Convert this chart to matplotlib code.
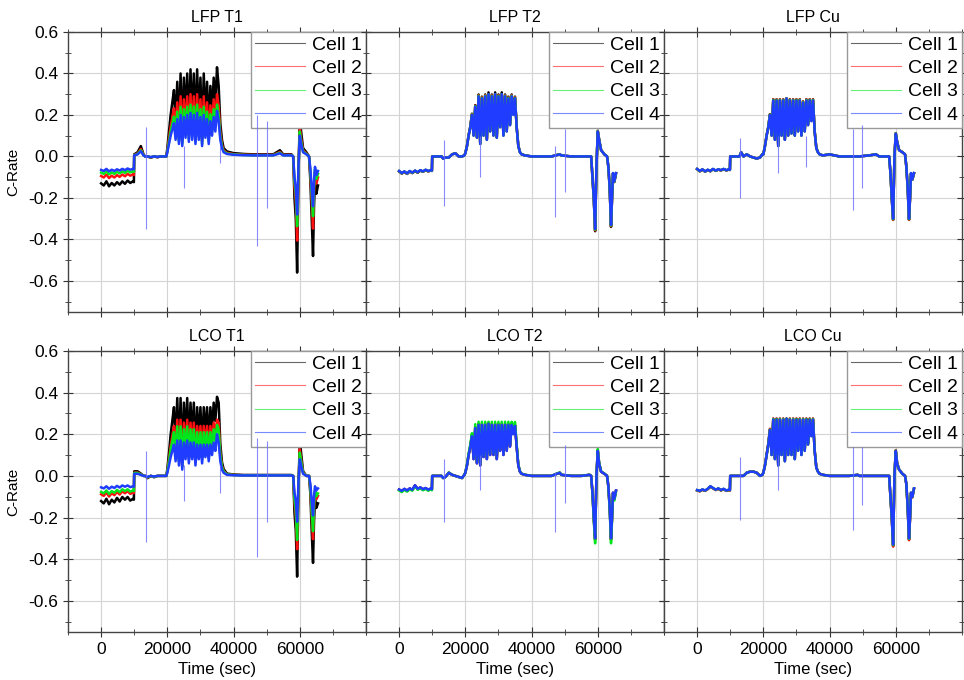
import matplotlib
matplotlib.use('Agg')
import matplotlib.pyplot as plt
from matplotlib.lines import Line2D
from matplotlib.ticker import MultipleLocator, FixedLocator, FuncFormatter
import numpy as np

plt.rcParams['font.family'] = ['Liberation Sans', 'DejaVu Sans']

# Time vertices shared by every panel (sec)
TIME = [0, 800, 1600, 2400, 3200, 4000, 4800, 5600, 6400, 7200, 8000, 8800, 9600, 9900,
        10000, 11000, 12000, 12800, 13300, 14000, 15000, 16000, 17000, 18000, 19000, 19700,
        20000, 20500, 21000, 21500,
        22000, 22500, 23000, 23500, 24000, 24500, 25000, 25500, 26000, 26500, 27000, 27500,
        28000, 28500, 29000, 29500, 30000, 30500, 31000, 31500, 32000, 32500, 33000, 33500,
        34000, 34500, 35000,
        35500, 36000, 36500, 37000, 38000, 40000, 43000, 46000, 48500, 49000, 52000, 54000,
        55000, 57500,
        58000, 58400, 58800, 59200, 59600, 60000, 60400, 61000, 62000, 62800, 63200, 63600,
        64000, 64300, 64600, 65000, 65500]

# C-rate of Cell 4 in each panel
LFP_T1 = [-0.065, -0.07, -0.06, -0.072, -0.064, -0.07, -0.062, -0.068, -0.06, -0.066, -0.058, -0.064, -0.06, -0.062,
          0.005, 0.01, 0.025, 0.005, 0.0, 0.0, -0.003, 0.0, -0.002, 0.0, 0.0, 0.0,
          0.02, 0.06, 0.1, 0.13,
          0.16, 0.08, 0.18, 0.06, 0.2, 0.05, 0.19, 0.09, 0.2, 0.07, 0.21, 0.08,
          0.2, 0.06, 0.21, 0.08, 0.19, 0.05, 0.2, 0.09, 0.18, 0.06, 0.17, 0.1,
          0.19, 0.12, 0.22,
          0.17, 0.08, 0.04, 0.02, 0.012, 0.008, 0.006, 0.005, 0.005, 0.005, 0.005, 0.015,
          0.005, 0.005,
          0.0, -0.1, -0.15, -0.28, -0.05, 0.1, 0.06, 0.02, 0.01, 0.0, -0.06, -0.15,
          -0.24, -0.12, -0.05, -0.09, -0.07]
LFP_T2 = [-0.07, -0.08, -0.072, -0.082, -0.07, -0.078, -0.068, -0.076, -0.066, -0.072, -0.064, -0.07, -0.066, -0.068,
          0.0, 0.0, 0.0, 0.0, -0.01, -0.005, -0.005, 0.01, 0.015, 0.0, 0.0, 0.005,
          0.015, 0.05, 0.1, 0.14,
          0.2, 0.1, 0.24, 0.09, 0.29, 0.06, 0.28, 0.1, 0.29, 0.08, 0.3, 0.12,
          0.29, 0.1, 0.3, 0.09, 0.29, 0.14, 0.3, 0.1, 0.29, 0.12, 0.28, 0.15,
          0.29, 0.2, 0.28,
          0.14, 0.05, 0.02, 0.01, 0.005, 0.0, 0.0, 0.0, 0.01, 0.005, 0.0, 0.0,
          0.0, 0.0,
          0.0, -0.1, -0.2, -0.35, -0.05, 0.12, 0.08, 0.03, 0.01, 0.0, -0.05, -0.15,
          -0.33, -0.2, -0.08, -0.12, -0.08]
LFP_CU = [-0.06, -0.07, -0.062, -0.072, -0.064, -0.07, -0.06, -0.068, -0.062, -0.066, -0.06, -0.066, -0.062, -0.064,
          0.0, 0.0, 0.0, 0.0, 0.02, 0.0, 0.01, 0.0, -0.005, -0.01, -0.005, 0.01,
          0.01, 0.05, 0.1, 0.14,
          0.2, 0.1, 0.27, 0.08, 0.27, 0.05, 0.27, 0.1, 0.27, 0.08, 0.28, 0.1,
          0.27, 0.11, 0.27, 0.1, 0.27, 0.12, 0.27, 0.1, 0.26, 0.12, 0.27, 0.15,
          0.27, 0.17, 0.27,
          0.12, 0.04, 0.02, 0.01, 0.005, 0.01, 0.0, 0.0, 0.0, 0.0, 0.005, 0.01,
          0.0, 0.0,
          0.0, -0.08, -0.2, -0.3, 0.0, 0.11, 0.07, 0.03, 0.02, 0.01, -0.05, -0.15,
          -0.3, -0.2, -0.08, -0.11, -0.08]
LCO_T1 = [-0.055, -0.06, -0.05, -0.062, -0.052, -0.058, -0.048, -0.056, -0.046, -0.052, -0.046, -0.054, -0.05, -0.052,
          0.01, 0.01, 0.005, 0.0, 0.0, -0.005, 0.0, -0.003, 0.0, 0.0, 0.0, 0.0,
          0.015, 0.05, 0.09, 0.12,
          0.15, 0.07, 0.17, 0.05, 0.17, 0.03, 0.16, 0.08, 0.17, 0.06, 0.16, 0.08,
          0.16, 0.05, 0.15, 0.08, 0.15, 0.06, 0.15, 0.09, 0.15, 0.07, 0.15, 0.1,
          0.16, 0.12, 0.2,
          0.16, 0.07, 0.03, 0.015, 0.005, 0.003, 0.002, 0.002, 0.002, 0.002, 0.002, 0.002,
          0.002, 0.002,
          0.0, -0.08, -0.12, -0.22, -0.03, 0.08, 0.05, 0.01, 0.0, 0.0, -0.04, -0.12,
          -0.19, -0.1, -0.05, -0.07, -0.06]
LCO_T2 = [-0.065, -0.072, -0.062, -0.07, -0.06, -0.066, -0.045, -0.062, -0.055, -0.064, -0.058, -0.066, -0.06, -0.064,
          0.0, 0.0, 0.0, 0.0, -0.01, -0.005, 0.015, 0.005, 0.0, -0.005, -0.01, 0.005,
          0.015, 0.05, 0.1, 0.14,
          0.19, 0.08, 0.23, 0.06, 0.245, 0.05, 0.245, 0.09, 0.245, 0.08, 0.25, 0.1,
          0.245, 0.1, 0.245, 0.08, 0.245, 0.12, 0.245, 0.1, 0.245, 0.12, 0.245, 0.14,
          0.245, 0.2, 0.24,
          0.14, 0.05, 0.02, 0.01, 0.005, 0.0, 0.0, 0.0, 0.015, 0.005, 0.0, 0.0,
          0.0, 0.005,
          0.0, -0.08, -0.2, -0.3, 0.0, 0.12, 0.06, 0.02, 0.01, 0.0, -0.05, -0.15,
          -0.3, -0.2, -0.08, -0.11, -0.07]
LCO_CU = [-0.068, -0.072, -0.065, -0.07, -0.062, -0.05, -0.058, -0.066, -0.06, -0.068, -0.062, -0.07, -0.066, -0.068,
          0.0, 0.0, 0.0, 0.0, 0.0, 0.0, 0.015, 0.02, 0.02, 0.015, 0.0, 0.005,
          0.015, 0.05, 0.1, 0.15,
          0.22, 0.1, 0.27, 0.08, 0.27, 0.05, 0.27, 0.1, 0.27, 0.07, 0.275, 0.1,
          0.27, 0.1, 0.27, 0.08, 0.27, 0.12, 0.27, 0.1, 0.27, 0.12, 0.27, 0.15,
          0.27, 0.19, 0.27,
          0.12, 0.04, 0.02, 0.01, 0.005, 0.0, 0.0, 0.0, 0.005, 0.0, 0.0, 0.0,
          0.0, 0.0,
          0.0, -0.1, -0.2, -0.33, 0.0, 0.12, 0.06, 0.03, 0.01, 0.0, -0.04, -0.15,
          -0.3, -0.2, -0.08, -0.1, -0.06]

# Cells 1-3 relative to Cell 4 (ratio) and their saturation level during pulses
RATIO = {
    'LFP T1': [2.0, 1.45, 1.2, 1.0], 'LFP T2': [1.03, 1.02, 1.01, 1.0], 'LFP Cu': [1.02, 1.02, 1.01, 1.0],
    'LCO T1': [2.2, 1.6, 1.4, 1.0], 'LCO T2': [1.02, 1.02, 1.08, 1.0], 'LCO Cu': [1.02, 1.03, 1.01, 1.0],
}
CAP = {
    'LFP T1': [0.43, 0.3, 0.25, 1.0], 'LFP T2': [0.31, 0.3, 0.3, 1.0], 'LFP Cu': [0.28, 0.28, 0.28, 1.0],
    'LCO T1': [0.38, 0.27, 0.245, 1.0], 'LCO T2': [0.265, 0.26, 0.26, 1.0], 'LCO Cu': [0.275, 0.275, 0.275, 1.0],
}

# isolated short spikes: time, low, high
SPIKES = {
    'LFP T1': [(13500, -0.35, 0.14), (25000, -0.15, 0.05), (47000, -0.43, 0.2), (50000, -0.25, 0.17), (36000, -0.03, 0.05)],
    'LFP T2': [(13500, -0.24, 0.08), (24500, -0.1, 0.1), (47000, -0.29, 0.05), (50000, -0.17, 0.13)],
    'LFP Cu': [(13000, -0.2, 0.09), (24500, -0.08, 0.1), (33000, -0.05, 0.1), (47000, -0.26, 0.13), (49800, -0.15, 0.15)],
    'LCO T1': [(13500, -0.32, 0.12), (25000, -0.12, 0.05), (47000, -0.39, 0.18), (50000, -0.22, 0.17), (36000, -0.08, 0.05)],
    'LCO T2': [(13500, -0.22, 0.08), (24500, -0.07, 0.1), (47000, -0.27, 0.02), (50000, -0.13, 0.15)],
    'LCO Cu': [(13000, -0.21, 0.09), (24500, -0.07, 0.1), (47000, -0.26, 0.14), (49800, -0.14, 0.14)],
}

PANELS = [['LFP T1', 'LFP T2', 'LFP Cu'], ['LCO T1', 'LCO T2', 'LCO Cu']]
CELL4 = {'LFP T1': LFP_T1, 'LFP T2': LFP_T2, 'LFP Cu': LFP_CU,
         'LCO T1': LCO_T1, 'LCO T2': LCO_T2, 'LCO Cu': LCO_CU}
CELLS = ['Cell 1', 'Cell 2', 'Cell 3', 'Cell 4']
COLORS = ['#000000', '#ff1010', '#00e61a', '#1f3cff']
X_TICKS = [0, 20000, 40000, 60000]

fig = plt.figure(figsize=(9.64, 6.8), dpi=100)
left, width = 68 / 964, 298 / 964
rows = [(1 - 312 / 680, 280 / 680), (1 - 632 / 680, 281 / 680)]

t = np.array(TIME)
axes = []
for r, names in enumerate(PANELS):
    for c, name in enumerate(names):
        b, h = rows[r]
        ax = fig.add_axes([left + c * width, b, width, h],
                          sharex=axes[0] if axes else None, sharey=axes[0] if axes else None)
        axes.append(ax)
        base = np.array(CELL4[name])
        for k in range(4):
            y = np.minimum(base * RATIO[name][k], CAP[name][k])
            ax.plot(t, y, color=COLORS[k], lw=1.8, zorder=2 + k)
        for (ts, lo, hi) in SPIKES[name]:
            ax.vlines(ts, lo, hi, color='#6a6aff', lw=0.8, alpha=0.8, zorder=6)

        ax.set_xlim(-10000, 80000)
        ax.set_ylim(-0.75, 0.6)
        ax.xaxis.set_major_locator(FixedLocator(X_TICKS))
        ax.xaxis.set_minor_locator(MultipleLocator(10000))
        ax.yaxis.set_major_locator(MultipleLocator(0.2))
        ax.yaxis.set_minor_locator(MultipleLocator(0.1))
        ax.grid(True, which='major', color='#d4d4d4', lw=0.8)
        ax.set_axisbelow(True)
        ax.tick_params(which='both', direction='inout', top=True, right=True, labelsize=12.5, color='#333333')
        ax.tick_params(which='major', length=7)
        ax.tick_params(which='minor', length=4)
        for s in ax.spines.values():
            s.set_color('#444444')
            s.set_linewidth(1.0)
        ax.set_title(name, fontsize=11.5, pad=7)

        if c == 0:
            ax.set_ylabel('C-Rate', fontsize=11, labelpad=6)
        else:
            ax.tick_params(labelleft=False)
        if r == 1:
            ax.set_xlabel('Time (sec)', fontsize=12, labelpad=4)
        else:
            ax.tick_params(labelbottom=False)

        handles = [Line2D([0], [0], color=col, lw=0.8, alpha=0.6) for col in COLORS]
        ax.legend(handles, CELLS, loc='upper right', borderaxespad=0, fontsize=14,
                  fancybox=False, edgecolor='#999999', framealpha=1,
                  handlelength=2.6, handletextpad=0.35, labelspacing=0.3, borderpad=0.2)

axes[0].yaxis.set_major_formatter(FuncFormatter(lambda v, p: f"{v:.1f}"))

fig.savefig('out.png', dpi=100)
